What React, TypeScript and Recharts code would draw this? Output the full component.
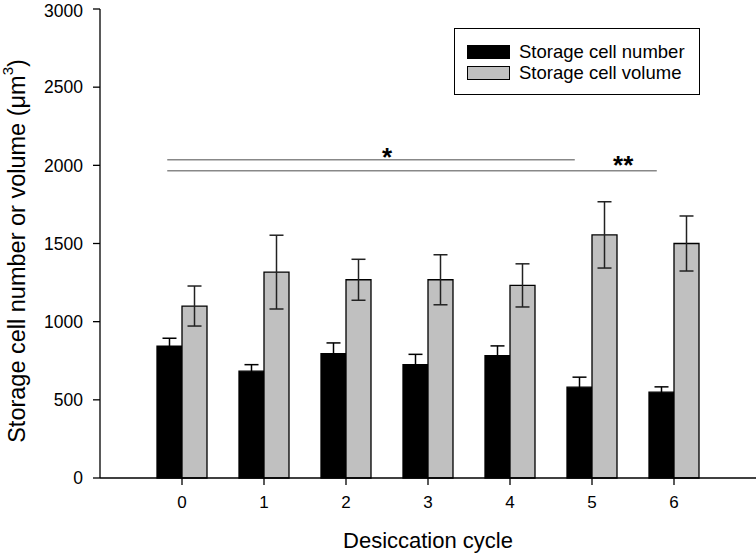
import React from 'react';
import { ComposedChart, Bar, XAxis, YAxis, ErrorBar, ReferenceLine, ReferenceDot } from 'recharts';

const cycles = [0, 1, 2, 3, 4, 5, 6];
const cellNumber = [844, 683, 796, 725, 783, 581, 549];
const cellNumberErr = [50, 42, 68, 66, 62, 64, 34];
const cellVolume = [1100, 1317, 1268, 1268, 1232, 1555, 1500];
const cellVolumeErr = [128, 236, 131, 160, 138, 212, 176];
const yTicks = [0, 500, 1000, 1500, 2000, 2500, 3000];
const seriesNames = ['Storage cell number', 'Storage cell volume'];
const seriesColors = ['#000000', '#c0c0c0'];

const data = cycles.map((c, i) => ({
  cycle: c,
  number: cellNumber[i],
  numberErr: cellNumberErr[i],
  volume: cellVolume[i],
  volumeErr: cellVolumeErr[i],
}));

const FONT = '"Liberation Sans", Arial, sans-serif';

const LegendBox = () => (
  <div
    style={{
      position: 'absolute',
      left: 454,
      top: 28,
      border: '1.3px solid #000',
      width: 246,
      height: 67,
      boxSizing: 'border-box',
      fontFamily: FONT,
      fontSize: 18.5,
      lineHeight: '18px',
      color: '#000',
      padding: '12px 0 0 12px',
      background: '#fff',
    }}
  >
    {seriesNames.map((n, i) => (
      <div key={n} style={{ display: 'flex', alignItems: 'center', height: 21, whiteSpace: 'nowrap' }}>
        <span
          style={{
            display: 'inline-block',
            width: 43,
            height: 14,
            background: seriesColors[i],
            border: '1px solid #000',
            boxSizing: 'border-box',
            marginRight: 9,
          }}
        />
        {n}
      </div>
    ))}
  </div>
);

const YLabel = () => (
  <text
    x={17}
    y={251}
    transform="rotate(-90, 17, 251)"
    textAnchor="middle"
    dominantBaseline="central"
    fill="#000"
    fontSize={23.5}
    fontFamily={FONT}
  >
    <tspan>Storage cell number or volume (μm</tspan>
    <tspan dy={-10} fontSize={15}>3</tspan>
    <tspan dy={10}>)</tspan>
  </text>
);

const XLabel = () => (
  <text x={428} y={548} textAnchor="middle" fill="#000" fontSize={22} fontFamily={FONT}>
    Desiccation cycle
  </text>
);

export default function App() {
  return (
    <div style={{ position: 'absolute', left: 0, top: 0, width: 756, height: 556, background: '#fff' }}>
      <ComposedChart
        width={756}
        height={556}
        data={data}
        margin={{ top: 9, right: 0, bottom: 0, left: 0 }}
        barGap={0}
      >
        <XAxis
          dataKey="cycle"
          type="number"
          domain={[-1, 7]}
          ticks={cycles}
          allowDataOverflow
          tickSize={7}
          tickMargin={11}
          stroke="#000"
          strokeWidth={1.3}
          tick={{ fill: '#000', fontSize: 17, fontFamily: FONT }}
          label={{ content: () => <XLabel /> }}
          height={78}
        />
        <YAxis
          domain={[0, 3000]}
          ticks={yTicks}
          width={100}
          tickSize={7}
          tickMargin={10}
          stroke="#000"
          strokeWidth={1.3}
          tick={{ fill: '#000', fontSize: 17.5, fontFamily: FONT }}
          label={{ content: () => <YLabel /> }}
        />
        <Bar dataKey="number" name={seriesNames[0]} fill={seriesColors[0]} stroke="#000" strokeWidth={1.3} barSize={25} isAnimationActive={false}>
          <ErrorBar dataKey="numberErr" width={7} stroke="#000" strokeWidth={1.5} direction="y" />
        </Bar>
        <Bar dataKey="volume" name={seriesNames[1]} fill={seriesColors[1]} stroke="#000" strokeWidth={1.3} barSize={25} isAnimationActive={false}>
          <ErrorBar dataKey="volumeErr" width={7} stroke="#222" strokeWidth={1.5} direction="y" />
        </Bar>
        <ReferenceLine
          segment={[{ x: -0.18, y: 2036 }, { x: 4.79, y: 2036 }]}
          stroke="#888"
          strokeWidth={1.5}
          ifOverflow="visible"
        />
        <ReferenceLine
          segment={[{ x: -0.18, y: 1966 }, { x: 5.79, y: 1966 }]}
          stroke="#888"
          strokeWidth={1.5}
          ifOverflow="visible"
        />
        <ReferenceDot
          x={2.5}
          y={2036}
          r={1}
          fill="none"
          stroke="none"
          ifOverflow="visible"
          label={{ value: '*', position: 'center', dy: -3, fill: '#000', fontSize: 26, fontWeight: 'bold', fontFamily: FONT }}
        />
        <ReferenceDot
          x={5.38}
          y={1966}
          r={1}
          fill="none"
          stroke="none"
          ifOverflow="visible"
          label={{ value: '**', position: 'center', dy: -6, fill: '#000', fontSize: 26, fontWeight: 'bold', fontFamily: FONT }}
        />
      </ComposedChart>
      <LegendBox />
    </div>
  );
}
